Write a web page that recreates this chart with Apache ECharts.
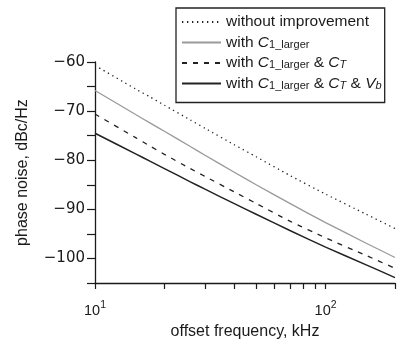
<!DOCTYPE html>
<html>
<head>
<meta charset="utf-8">
<script src="https://cdn.jsdelivr.net/npm/echarts@6/dist/echarts.min.js"></script>
<style>
  html, body { margin: 0; padding: 0; background: #fff; }
  #chart { width: 402px; height: 341px; }
</style>
</head>
<body>
<div id="chart"></div>
<script>
// offset frequency, kHz
const freqs = [10, 15, 17.3, 20, 25.9, 30, 40, 50, 70, 100, 150, 200];

// phase noise, dBc/Hz
const withoutImprovement = [-60.7, -65.5, -67.1, -68.8, -71.8, -73.5, -76.8, -79.3, -83.1, -86.9, -91.0, -93.9];
const withC1 = [-65.8, -70.7, -72.4, -74.1, -77.2, -79.0, -82.4, -85.0, -88.8, -92.7, -96.9, -99.8];
const withC1CT = [-70.6, -75.4, -77.1, -78.8, -81.7, -83.3, -86.4, -88.8, -92.4, -95.8, -99.4, -102.0];
const withC1CTVb = [-74.5, -78.7, -80.2, -81.7, -84.4, -85.9, -88.8, -91.0, -94.3, -97.7, -101.3, -103.9];

const seriesNames = [
  "without improvement",
  "with C1_larger",
  "with C1_larger & CT",
  "with C1_larger & CT & Vb"
];
const legendLabels = {
  "without improvement": "without improvement",
  "with C1_larger": "with {i|C}{sub|1_larger}",
  "with C1_larger & CT": "with {i|C}{sub|1_larger} & {i|C}{isub|T}",
  "with C1_larger & CT & Vb": "with {i|C}{sub|1_larger} & {i|C}{isub|T} & {i|V}{isub|b}"
};

const xTicks = [10, 20, 30, 40, 50, 60, 70, 80, 90, 100, 200];
const xLabels = [10, 100];

const font = "Liberation Sans";
const ink = "#1a1a1a";

const pairs = (ys) => freqs.map((f, i) => [f, ys[i]]);

const chart = echarts.init(document.getElementById("chart"), null, { renderer: "canvas" });

chart.setOption({
  animation: false,
  backgroundColor: "#fff",
  textStyle: { fontFamily: font, color: ink },
  grid: { left: 95, right: 7, top: 62, bottom: 58, containLabel: false, outerBoundsMode: "none" },
  legend: {
    orient: "vertical",
    left: 176,
    top: 8,
    padding: [6, 3, 11, 5],
    borderColor: "#222",
    borderWidth: 1.3,
    itemWidth: 39,
    itemHeight: 14,
    itemGap: 4.5,
    data: seriesNames,
    itemStyle: { opacity: 0 },
    formatter: (name) => legendLabels[name],
    textStyle: {
      fontFamily: font,
      fontSize: 15.5,
      color: ink,
      lineHeight: 15,
      rich: {
        i: { fontFamily: font, fontSize: 15.5, fontStyle: "italic", color: ink },
        sub: { fontFamily: font, fontSize: 11, color: ink, verticalAlign: "bottom", lineHeight: 2 },
        isub: { fontFamily: font, fontSize: 11, fontStyle: "italic", color: ink, verticalAlign: "bottom", lineHeight: 2 }
      }
    }
  },
  xAxis: {
    type: "log",
    logBase: 10,
    min: 10,
    max: 200,
    name: "offset frequency, kHz",
    nameLocation: "middle",
    nameGap: 41,
    nameTextStyle: { fontFamily: font, fontSize: 16, color: ink },
    axisLine: { lineStyle: { color: ink, width: 1.3 } },
    axisTick: {
      show: true,
      inside: false,
      length: 6,
      customValues: xTicks,
      lineStyle: { color: ink, width: 1.2 }
    },
    axisLabel: {
      customValues: xLabels,
      margin: 17,
      fontSize: 14.5,
      color: ink,
      formatter: (v) => "10{sup|" + Math.round(Math.log10(v)) + "}",
      rich: {
        sup: { fontSize: 10.5, verticalAlign: "top", lineHeight: 22, color: ink, fontFamily: font }
      }
    },
    splitLine: { show: false },
    minorTick: { show: false }
  },
  yAxis: {
    type: "value",
    min: -105,
    max: -60,
    interval: 5,
    name: "phase noise, dBc/Hz",
    nameLocation: "middle",
    nameGap: 64,
    nameTextStyle: { fontFamily: font, fontSize: 16, color: ink },
    axisLine: { show: true, lineStyle: { color: ink, width: 1.3 } },
    axisTick: { show: true, inside: false, length: 8, lineStyle: { color: ink, width: 1.2 } },
    axisLabel: {
      margin: 10,
      fontSize: 15,
      fontFamily: "DejaVu Sans",
      color: ink,
      formatter: (v) => (v % 10 === 0 ? "\u2212" + Math.abs(v) : "")
    },
    splitLine: { show: false }
  },
  series: [
    {
      name: seriesNames[0],
      type: "line",
      symbol: "none",
      smooth: 0.2,
      data: pairs(withoutImprovement),
      itemStyle: { color: "#222" },
      lineStyle: { color: "#222", width: 1.3, type: [1.3, 3.7] }
    },
    {
      name: seriesNames[1],
      type: "line",
      symbol: "none",
      smooth: 0.2,
      data: pairs(withC1),
      itemStyle: { color: "#9a9a9a" },
      lineStyle: { color: "#9a9a9a", width: 1.3, type: "solid" }
    },
    {
      name: seriesNames[2],
      type: "line",
      symbol: "none",
      smooth: 0.2,
      data: pairs(withC1CT),
      itemStyle: { color: "#222" },
      lineStyle: { color: "#222", width: 1.3, type: [5, 6] }
    },
    {
      name: seriesNames[3],
      type: "line",
      symbol: "none",
      smooth: 0.2,
      data: pairs(withC1CTVb),
      itemStyle: { color: "#222" },
      lineStyle: { color: "#222", width: 1.5, type: "solid" }
    }
  ]
});
</script>
</body>
</html>
